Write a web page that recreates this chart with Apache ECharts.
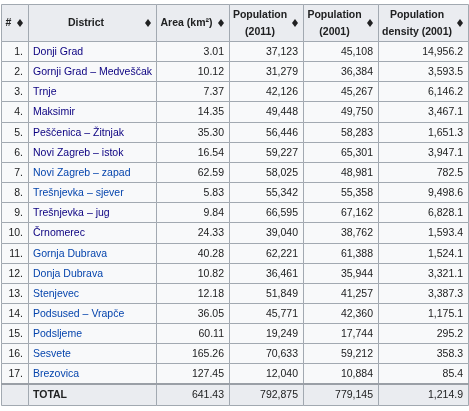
<!DOCTYPE html>
<html><head><meta charset="utf-8">
<script src="https://cdn.jsdelivr.net/npm/echarts@6/dist/echarts.min.js"></script>
<style>html,body{margin:0;padding:0;background:#fff}#c{width:469px;height:411px}</style>
</head><body><div id="c"></div><script>
// ---- data ----
const headers = ['#', 'District', 'Area (km²)', 'Population\n(2011)', 'Population\n(2001)', 'Population\ndensity (2001)'];
const districts = ['Donji Grad', 'Gornji Grad – Medveščak', 'Trnje', 'Maksimir', 'Peščenica – Žitnjak',
  'Novi Zagreb – istok', 'Novi Zagreb – zapad', 'Trešnjevka – sjever', 'Trešnjevka – jug', 'Črnomerec',
  'Gornja Dubrava', 'Donja Dubrava', 'Stenjevec', 'Podsused – Vrapče', 'Podsljeme', 'Sesvete', 'Brezovica'];
const area = [3.01, 10.12, 7.37, 14.35, 35.30, 16.54, 62.59, 5.83, 9.84, 24.33, 40.28, 10.82, 12.18, 36.05, 60.11, 165.26, 127.45];
const pop2011 = [37123, 31279, 42126, 49448, 56446, 59227, 58025, 55342, 66595, 39040, 62221, 36461, 51849, 45771, 19249, 70633, 12040];
const pop2001 = [45108, 36384, 45267, 49750, 58283, 65301, 48981, 55358, 67162, 38762, 61388, 35944, 41257, 42360, 17744, 59212, 10884];
const density = [14956.2, 3593.5, 6146.2, 3467.1, 1651.3, 3947.1, 782.5, 9498.6, 6828.1, 1593.4, 1524.1, 3321.1, 3387.3, 1175.1, 295.2, 358.3, 85.4];
const totalLabel = 'TOTAL';
const totalArea = 641.43;
const totalPop2011 = 792875;
const totalPop2001 = 779145;
const totalDensity = 1214.9;
const visitedLinks = [1, 2, 3, 4, 5, 6, 9, 10];

// ---- layout (pixel units of the grid) ----
const colEdges = [0, 27, 155, 228, 302, 377, 467];
const headerH = 37;
const rowH = 20.15;
const tableH = 401;
const nBody = districts.length;
function rowTop(r) {
  if (r === 0) return 0;
  return headerH + (r - 1) * rowH;
}
function rowBottom(r) {
  if (r === 0) return headerH;
  if (r === nBody + 1) return tableH;
  return headerH + r * rowH;
}

const fmtArea = v => v.toFixed(2);
const fmtInt = v => v.toLocaleString('en-US');
const fmtDen = v => v.toLocaleString('en-US', { minimumFractionDigits: 1, maximumFractionDigits: 1 });

// build cells
const cells = [];
headers.forEach((h, c) => cells.push({ value: [c, 0], text: h, kind: 'header' }));
districts.forEach((d, i) => {
  const r = i + 1;
  cells.push({ value: [0, r], text: r + '.', kind: 'num' });
  cells.push({ value: [1, r], text: d, kind: visitedLinks.includes(r) ? 'visited' : 'link' });
  cells.push({ value: [2, r], text: fmtArea(area[i]), kind: 'num' });
  cells.push({ value: [3, r], text: fmtInt(pop2011[i]), kind: 'num' });
  cells.push({ value: [4, r], text: fmtInt(pop2001[i]), kind: 'num' });
  cells.push({ value: [5, r], text: fmtDen(density[i]), kind: 'num' });
});
const tr = nBody + 1;
cells.push({ value: [0, tr], text: '', kind: 'total' });
cells.push({ value: [1, tr], text: totalLabel, kind: 'totalLabel' });
cells.push({ value: [2, tr], text: fmtArea(totalArea), kind: 'total' });
cells.push({ value: [3, tr], text: fmtInt(totalPop2011), kind: 'total' });
cells.push({ value: [4, tr], text: fmtInt(totalPop2001), kind: 'total' });
cells.push({ value: [5, tr], text: fmtDen(totalDensity), kind: 'total' });

const FONT = '"Liberation Sans", Arial, Helvetica, sans-serif';
const FS = 10.5;
const BORDER = '#a2a9b1';

function renderItem(params, api) {
  const c = api.value(0), r = api.value(1);
  const cell = cells[params.dataIndex];
  const p0 = api.coord([colEdges[c], rowTop(r)]);
  const p1 = api.coord([colEdges[c + 1], rowBottom(r)]);
  const x0 = Math.round(p0[0]), y0 = Math.round(p0[1]);
  const x1 = Math.round(p1[0]), y1 = Math.round(p1[1]);
  const isHeader = r === 0;
  const isTotal = r === tr;
  const children = [{
    type: 'rect',
    shape: { x: x0 + 0.5, y: y0 + 0.5, width: x1 - x0, height: y1 - y0 },
    style: { fill: (isHeader || isTotal) ? '#eaecf0' : '#f8f9fa', stroke: BORDER, lineWidth: 1 }
  }];
  const cy = (y0 + y1) / 2 + 1;
  if (isHeader) {
    const cx = (x0 + x1 - 12) / 2;
    children.push({
      type: 'text',
      style: {
        text: cell.text, x: cx, y: cy, align: 'center', verticalAlign: 'middle',
        fontFamily: FONT, fontSize: FS, fontWeight: 'bold', fill: '#202122', lineHeight: 17
      }
    });
    const ix = x1 - 8, iy = (y0 + y1) / 2 + 0.5;
    children.push({
      type: 'polygon',
      shape: { points: [[ix, iy - 4], [ix + 3, iy], [ix, iy + 4], [ix - 3, iy]] },
      style: { fill: '#202122' }
    });
  } else if (cell.text) {
    let fill = '#202122', align = 'right', x = x1 - 5, weight = 'normal';
    if (cell.kind === 'visited') { fill = '#0b0080'; align = 'left'; x = x0 + 5; }
    else if (cell.kind === 'link') { fill = '#0645ad'; align = 'left'; x = x0 + 5; }
    else if (cell.kind === 'totalLabel') { align = 'left'; x = x0 + 5; weight = 'bold'; }
    children.push({
      type: 'text',
      style: {
        text: cell.text, x: x, y: cy, align: align, verticalAlign: 'middle',
        fontFamily: FONT, fontSize: FS, fontWeight: weight, fill: fill
      }
    });
  }
  if (isTotal) {
    children.push({
      type: 'line',
      shape: { x1: x0, y1: y0, x2: x1 + 1, y2: y0 },
      style: { stroke: '#9a9fa6', lineWidth: 2 }
    });
  }
  return { type: 'group', children: children };
}

const chart = echarts.init(document.getElementById('c'), null, { renderer: 'canvas' });
chart.setOption({
  animation: false,
  backgroundColor: '#ffffff',
  grid: { left: 1, top: 4, right: 1, bottom: 6, show: false },
  xAxis: { type: 'value', min: 0, max: colEdges[colEdges.length - 1], show: false },
  yAxis: { type: 'value', min: 0, max: tableH, inverse: true, show: false },
  series: [{
    type: 'custom',
    coordinateSystem: 'cartesian2d',
    renderItem: renderItem,
    data: cells,
    silent: true,
    clip: false
  }]
});
</script></body></html>
